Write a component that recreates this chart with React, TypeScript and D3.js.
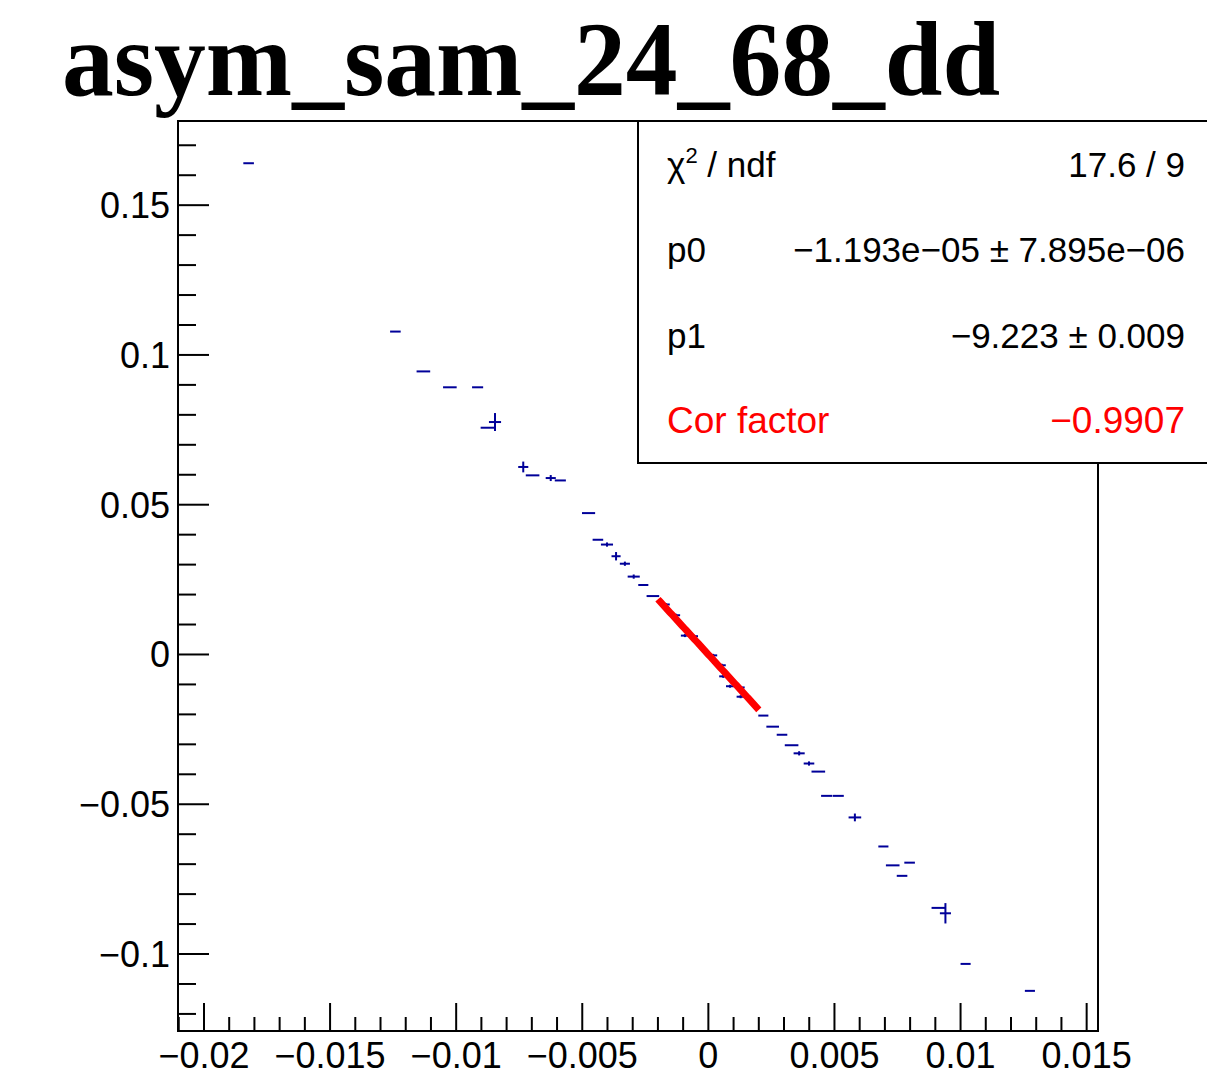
import React from 'react';
import * as d3 from 'd3';

// ---- data ----
const xVals = [-0.01823, -0.01241, -0.0113, -0.01025, -0.00915, -0.00846, -0.00875, -0.00734, -0.00697, -0.00625, -0.00587, -0.00475, -0.00438, -0.00402, -0.00366, -0.00331, -0.00296, -0.00258, -0.0022, -0.00169, -0.00128, -0.00093, -0.00057, 0.00019, 0.00053, 0.00059, 0.00086, 0.00128, 0.00128, 0.00218, 0.00255, 0.00292, 0.0033, 0.0036, 0.00399, 0.00436, 0.00469, 0.00515, 0.00581, 0.00694, 0.00731, 0.00798, 0.00768, 0.00912, 0.0094, 0.0102, 0.01275];
const yVals = [0.164, 0.1078, 0.0945, 0.0892, 0.0892, 0.0776, 0.0757, 0.0626, 0.0598, 0.0589, 0.0581, 0.0472, 0.0383, 0.0367, 0.0328, 0.0303, 0.026, 0.0232, 0.0195, 0.0167, 0.0131, 0.0063, 0.0061, -0.0003, -0.0036, -0.0073, -0.0106, -0.011, -0.0141, -0.0204, -0.0241, -0.0268, -0.0303, -0.033, -0.0364, -0.0391, -0.0472, -0.0472, -0.0544, -0.0641, -0.0704, -0.0695, -0.0739, -0.0846, -0.0864, -0.1033, -0.1123];
const xErrs = [0.00021, 0.00021, 0.00027, 0.00027, 0.00022, 0.00024, 0.00028, 0.0002, 0.00027, 0.0002, 0.00022, 0.00026, 0.00021, 0.00024, 0.00018, 0.0002, 0.00024, 0.0002, 0.00025, 0.00016, 0.00016, 0.00016, 0.00016, 0.00016, 0.00016, 0.00016, 0.00016, 0.00016, 0.00016, 0.0002, 0.00025, 0.00021, 0.00027, 0.00022, 0.00021, 0.00027, 0.00022, 0.00022, 0.00025, 0.0002, 0.00027, 0.00021, 0.00021, 0.00027, 0.00022, 0.0002, 0.0002];
const yErrs = [0, 0, 0, 0, 0, 0.003, 0, 0.0018, 0, 0.001, 0, 0, 0, 0.0007, 0.0014, 0.0007, 0.0007, 0, 0, 0.0005, 0.0005, 0.0005, 0.0005, 0.0005, 0.0005, 0.0005, 0.0005, 0.0005, 0.0005, 0, 0, 0, 0, 0.0007, 0.0007, 0, 0, 0, 0.0013, 0, 0, 0, 0, 0, 0.0034, 0, 0];

const fitP0 = -1.193e-5;
const fitP1 = -9.223;
const fitRange = [-0.002, 0.002];

const xDomain = [-0.02103, 0.01545];
const yDomain = [-0.1257, 0.1781];
const xMajorTicks = [-0.02, -0.015, -0.01, -0.005, 0, 0.005, 0.01, 0.015];
const xTickLabels = ['\u22120.02', '\u22120.015', '\u22120.01', '\u22120.005', '0', '0.005', '0.01', '0.015'];
const yMajorTicks = [-0.1, -0.05, 0, 0.05, 0.1, 0.15];
const yTickLabels = ['\u22120.1', '\u22120.05', '0', '0.05', '0.1', '0.15'];

const titleText = 'asym_sam_24_68_dd';
const statLabels = ['chi2', 'p0', 'p1', 'Cor factor'];
const statValues = ['17.6 / 9', '\u22121.193e\u221205 \u00b1 7.895e\u221206', '\u22129.223 \u00b1 0.009', '\u22120.9907'];
const statColors = ['#000', '#000', '#000', '#ff0000'];
const statSizes = [35, 35, 35, 37];

export default function App() {
  const W = 1207, H = 1083;
  const L = 178, R = 1098, T = 121, B = 1031;
  const x = d3.scaleLinear().domain(xDomain).range([L, R]);
  const y = d3.scaleLinear().domain(yDomain).range([B, T]);

  const xMinor = d3.range(-21, 16).map((i) => i * 0.001).filter((v) => v >= xDomain[0] && v <= xDomain[1]);
  const yMinor = d3.range(-12, 18).map((i) => i * 0.01).filter((v) => v >= yDomain[0] && v <= yDomain[1]);

  const fitLine = d3.line<number>().x((v) => x(v)).y((v) => y(fitP0 + fitP1 * v));
  const fitPts = d3.range(0, 51).map((i) => fitRange[0] + (i / 50) * (fitRange[1] - fitRange[0]));

  const font = "'Liberation Sans', Arial, Helvetica, sans-serif";
  const blue = '#000099';

  return (
    <svg width={W} height={H} style={{ position: 'absolute', left: 0, top: 0, background: '#fff' }}>
      <rect x={0} y={0} width={W} height={H} fill="#fff" />
      <text x={62} y={95} fontFamily="'Liberation Serif', 'Times New Roman', serif" fontWeight="bold" fontSize={106}
        textLength={938} lengthAdjust="spacingAndGlyphs">{titleText}</text>

      {/* ticks */}
      {xMinor.map((v, i) => {
        const major = xMajorTicks.some((m) => Math.abs(m - v) < 1e-9);
        return <line key={'xm' + i} x1={x(v)} x2={x(v)} y1={B} y2={B - (major ? 28 : 14)} stroke="#000" strokeWidth={2} />;
      })}
      {yMinor.map((v, i) => {
        const major = yMajorTicks.some((m) => Math.abs(m - v) < 1e-9);
        return <line key={'ym' + i} x1={L} x2={L + (major ? 31 : 18)} y1={y(v)} y2={y(v)} stroke="#000" strokeWidth={2} />;
      })}
      {xMajorTicks.map((v, i) => (
        <text key={'xl' + i} x={x(v)} y={1068} textAnchor="middle" fontFamily={font} fontSize={36} fill="#000">{xTickLabels[i]}</text>
      ))}
      {yMajorTicks.map((v, i) => (
        <text key={'yl' + i} x={170} y={y(v) + 13} textAnchor="end" fontFamily={font} fontSize={36} fill="#000">{yTickLabels[i]}</text>
      ))}

      {/* data points */}
      {xVals.map((xv, i) => (
        <g key={'p' + i} stroke={blue} strokeWidth={2}>
          <line x1={x(xv - xErrs[i])} x2={x(xv + xErrs[i])} y1={y(yVals[i])} y2={y(yVals[i])} />
          {yErrs[i] > 0 && <line x1={x(xv)} x2={x(xv)} y1={y(yVals[i] - yErrs[i])} y2={y(yVals[i] + yErrs[i])} />}
        </g>
      ))}

      {/* fit */}
      <path d={fitLine(fitPts) || ''} fill="none" stroke="#ff0000" strokeWidth={7} />

      {/* frame */}
      <rect x={L} y={T} width={R - L} height={B - T} fill="none" stroke="#000" strokeWidth={2} />

      {/* stats box */}
      <rect x={638} y={T} width={600} height={342} fill="#fff" stroke="#000" strokeWidth={2} />
      {statLabels.map((lab, i) => {
        const by = 177 + i * 85.3;
        return (
          <g key={'s' + i} fontFamily={font} fontSize={statSizes[i]} fill={statColors[i]}>
            {lab === 'chi2' ? (
              <text x={667} y={by}>
                {'\u03c7'}
                <tspan dy={-14} fontSize={22}>2</tspan>
                <tspan dy={14}>{' / ndf'}</tspan>
              </text>
            ) : (
              <text x={667} y={by}>{lab}</text>
            )}
            <text x={1185} y={by} textAnchor="end">{statValues[i]}</text>
          </g>
        );
      })}
    </svg>
  );
}
